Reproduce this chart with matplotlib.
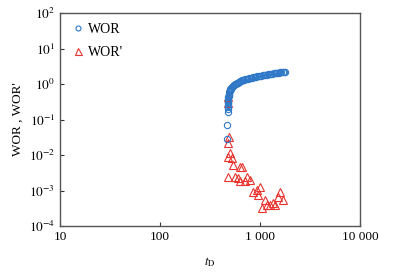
import matplotlib
matplotlib.use("Agg")
import matplotlib.pyplot as plt
from matplotlib.ticker import FixedLocator, NullLocator

plt.rcParams['font.family'] = ['Liberation Serif', 'DejaVu Serif']
plt.rcParams['mathtext.fontset'] = 'stix'

# WOR (circles)
wor_t = [470, 472, 474, 476, 477, 478, 479, 480, 481, 482, 484, 486, 488, 490,
         493, 497, 501, 506, 512, 518, 525, 533, 541, 550, 560, 571, 583, 596,
         610, 625, 641, 658, 676, 695, 715, 736, 758, 781, 805, 830, 856, 883,
         911, 940, 970, 1001, 1033, 1066, 1100, 1135, 1171, 1208, 1246, 1285,
         1325, 1366, 1408, 1451, 1495, 1540, 1586, 1633, 1681, 1730, 1760]
wor_v = [0.028, 0.07, 0.16, 0.2, 0.23, 0.26, 0.29, 0.32, 0.35, 0.38, 0.42, 0.46,
         0.5, 0.54, 0.58, 0.62, 0.66, 0.7, 0.74, 0.78, 0.82, 0.86, 0.9, 0.94,
         0.98, 1.02, 1.06, 1.1, 1.14, 1.18, 1.22, 1.26, 1.3, 1.33, 1.36, 1.39,
         1.42, 1.45, 1.48, 1.51, 1.54, 1.57, 1.6, 1.63, 1.66, 1.69, 1.72, 1.75,
         1.78, 1.81, 1.84, 1.87, 1.9, 1.93, 1.96, 1.99, 2.02, 2.05, 2.08, 2.1,
         2.12, 2.14, 2.16, 2.18, 2.2]

# WOR' (triangles)
worp_t = [479, 481, 490, 479, 501, 479, 525, 537, 631, 661, 479, 562, 603, 631,
          741, 794, 708, 851, 933, 1000, 955, 1047, 1122, 1175, 1259, 1349,
          1413, 1514, 1585, 1698]
worp_v = [0.43, 0.3, 0.032, 0.022, 0.0114, 0.0088, 0.0082, 0.0052, 0.0046,
          0.0045, 0.0024, 0.0024, 0.0022, 0.0018, 0.0024, 0.0020, 0.0018,
          0.00091, 0.00103, 0.00126, 0.00075, 0.00032, 0.00054, 0.00039,
          0.00039, 0.00044, 0.00039, 0.00066, 0.00091, 0.00054]

xticks = [10, 100, 1000, 10000]
xlabels = ["10", "100", "1 000", "10 000"]
yticks = [1e-4, 1e-3, 1e-2, 1e-1, 1e0, 1e1, 1e2]
ylabels = [r"$10^{-4}$", r"$10^{-3}$", r"$10^{-2}$", r"$10^{-1}$",
           r"$10^{0}$", r"$10^{1}$", r"$10^{2}$"]

fig = plt.figure(figsize=(4.04, 2.75), dpi=100)
ax = fig.add_axes([60 / 404, 1 - 226 / 275, 300 / 404, 213 / 275])

l1, = ax.plot(wor_t, wor_v, linestyle='none', marker='o', markersize=4.5,
              markerfacecolor='none', markeredgecolor='#2f78c8',
              markeredgewidth=0.8, label='WOR', zorder=3)
l2, = ax.plot(worp_t, worp_v, linestyle='none', marker='^', markersize=6.3,
              markerfacecolor='none', markeredgecolor='#e8332e',
              markeredgewidth=0.8, label="WOR'", zorder=2)

ax.set_xscale('log')
ax.set_yscale('log')
ax.set_xlim(10, 10000)
ax.set_ylim(1e-4, 1e2)
ax.xaxis.set_major_locator(FixedLocator(xticks))
ax.xaxis.set_minor_locator(NullLocator())
ax.set_xticklabels(xlabels)
ax.yaxis.set_major_locator(FixedLocator(yticks))
ax.yaxis.set_minor_locator(NullLocator())
ax.set_yticklabels(ylabels)
ax.tick_params(direction='in', length=3, width=0.8, labelsize=9.5,
               colors='#333333', labelcolor='black')

for s in ax.spines.values():
    s.set_color('#555555')
    s.set_linewidth(1.0)

ax.set_xlabel(r"$t_{\mathrm{D}}$", fontsize=9, labelpad=9)
ax.set_ylabel("WOR , WOR'", fontsize=9.5, labelpad=4)

ax.legend(handles=[l1, l2], loc='upper left', frameon=False, fontsize=10,
          handletextpad=0.1, handlelength=1.2, labelspacing=0.75,
          borderaxespad=0.3, markerscale=0.8)

fig.savefig("out.png", dpi=100)
